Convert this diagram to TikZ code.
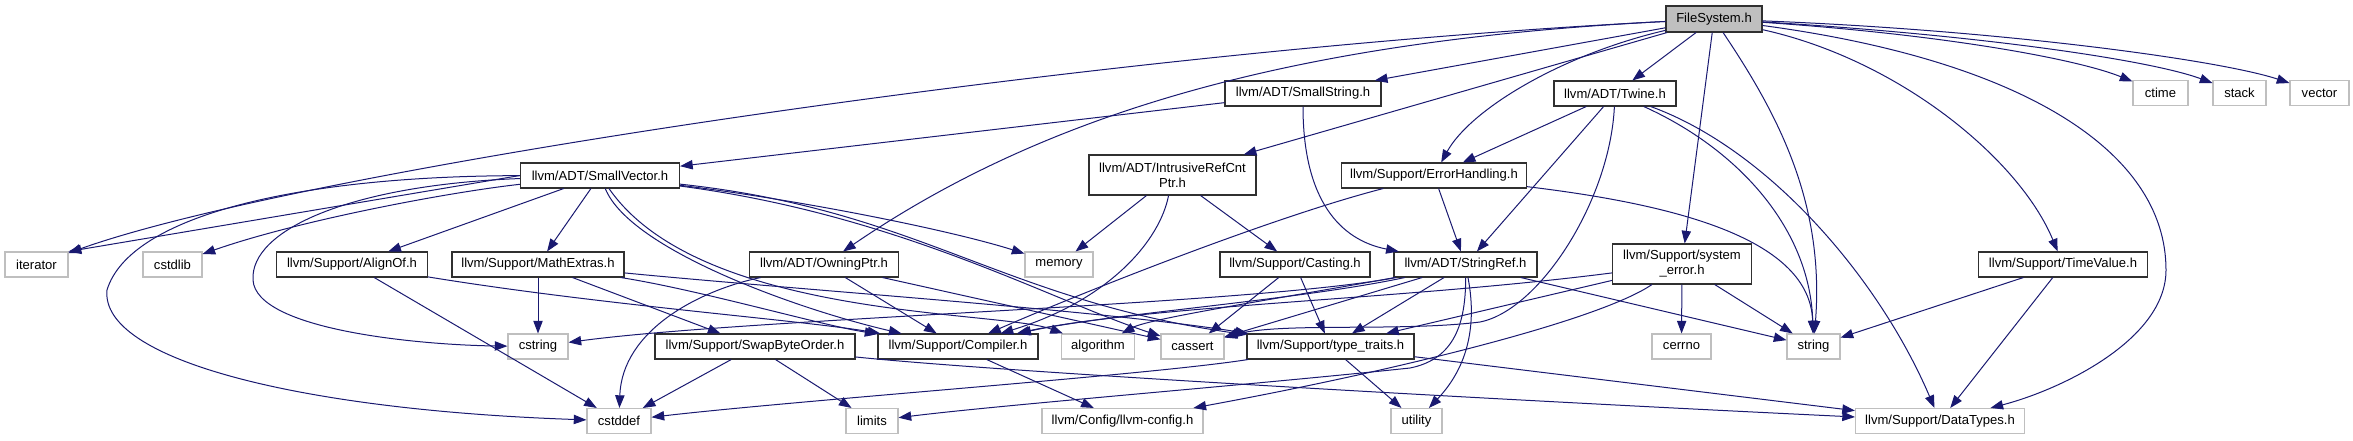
\documentclass[tikz,border=0pt]{standalone}
\usepackage{fontspec}
\setmainfont{Liberation Sans}
\usetikzlibrary{arrows.meta}
\definecolor{edgeblue}{HTML}{191970}
\definecolor{sysgray}{HTML}{BFBFBF}
\definecolor{boxline}{HTML}{303030}
\begin{document}
\begin{tikzpicture}[x=0.75pt,y=-0.75pt,
  box/.style={draw=boxline,line width=0.8pt,fill=white,inner sep=0pt,minimum height=18.75pt,font=\fontsize{9.8}{11.3}\selectfont,align=center},
  sys/.style={box,draw=sysgray},
  mainbox/.style={box,fill=sysgray,minimum height=19.5pt},
  wd/.style={minimum width=#1*0.75pt},
  edge/.style={draw=edgeblue,line width=0.75pt,-{Triangle[length=9.5pt,width=7pt]}}]
\useasboundingbox (0,0) rectangle (2353,440);
% nodes
\node[mainbox,wd=96] (fs) at (1714,19) {FileSystem.h};
\node[box,wd=156] (ss) at (1303,93.5) {llvm/ADT/SmallString.h};
\node[box,wd=122] (tw) at (1615,93.5) {llvm/ADT/Twine.h};
\node[box,wd=167,minimum height=30pt] (ir) at (1172.5,175) {llvm/ADT/IntrusiveRefCnt\\Ptr.h};
\node[box,wd=185] (eh) at (1434,175.5) {llvm/Support/ErrorHandling.h};
\node[box,wd=159] (sv) at (600,175.5) {llvm/ADT/SmallVector.h};
\node[sys,wd=63] (it) at (36.5,264.5) {iterator};
\node[sys,wd=59] (cl) at (172.5,264.5) {cstdlib};
\node[box,wd=151] (ao) at (352,264.5) {llvm/Support/AlignOf.h};
\node[box,wd=172] (me) at (538,264.5) {llvm/Support/MathExtras.h};
\node[box,wd=149] (op) at (824,264.5) {llvm/ADT/OwningPtr.h};
\node[sys,wd=68] (mem) at (1059,264.5) {memory};
\node[box,wd=150] (ca) at (1295,264.5) {llvm/Support/Casting.h};
\node[box,wd=143] (sr) at (1465.5,264.5) {llvm/ADT/StringRef.h};
\node[box,wd=139,minimum height=30pt] (se) at (1682,264) {llvm/Support/system\\\_error.h};
\node[box,wd=169] (tv) at (2063,264.5) {llvm/Support/TimeValue.h};
\node[sys,wd=55] (ctime) at (2160.5,93) {ctime};
\node[sys,wd=53] (stack) at (2239.5,93) {stack};
\node[sys,wd=59] (vec) at (2319.5,93) {vector};
\node[sys,wd=60] (cs) at (538,346.5) {cstring};
\node[box,wd=200] (sbo) at (755,346.5) {llvm/Support/SwapByteOrder.h};
\node[box,wd=160] (cp) at (958,346.5) {llvm/Support/Compiler.h};
\node[sys,wd=73] (alg) at (1098,346.5) {algorithm};
\node[sys,wd=63] (cas) at (1192.5,346.5) {cassert};
\node[box,wd=167] (tt) at (1330.5,346.5) {llvm/Support/type\_traits.h};
\node[sys,wd=59] (cer) at (1681.5,346.5) {cerrno};
\node[sys,wd=53] (str) at (1813.5,346.5) {string};
\node[sys,wd=64] (cd) at (619,421) {cstddef};
\node[sys,wd=52] (lim) at (872,421) {limits};
\node[sys,wd=161] (cfg) at (1122.5,421) {llvm/Config/llvm-config.h};
\node[sys,wd=51] (ut) at (1416.5,421) {utility};
\node[sys,wd=169] (dt) at (1940,421) {llvm/Support/DataTypes.h};
% FileSystem.h
\draw[edge] (fs) .. controls (1100,50) and (300,170) .. (it);
\draw[edge] (fs) -- (ss);
\draw[edge] (fs) -- (tw);
\draw[edge] (fs) -- (ir);
\draw[edge] (fs) .. controls (1560,55) and (1470,110) .. (eh);
\draw[edge] (fs) .. controls (1300,40) and (1050,110) .. (op);
\draw[edge] (fs) -- (se);
\draw[edge] (fs) .. controls (1775,110) and (1825,200) .. (str);
\draw[edge] (fs) .. controls (1900,60) and (2020,160) .. (tv);
\draw[edge] (fs) .. controls (2020,60) and (2166,150) .. (2166,270) .. controls (2166,340) and (2060,390) .. (dt);
\draw[edge] (fs) .. controls (1950,35) and (2080,60) .. (ctime);
\draw[edge] (fs) .. controls (1980,35) and (2150,60) .. (stack);
\draw[edge] (fs) .. controls (2000,30) and (2220,60) .. (vec);
% SmallString.h
\draw[edge] (ss) -- (sv);
\draw[edge] (ss) .. controls (1303,200) and (1340,240) .. (sr);
% Twine.h
\draw[edge] (tw) -- (eh);
\draw[edge] (tw) -- (sr);
\draw[edge] (tw) .. controls (1610,200) and (1540,310) .. (1480,322) .. controls (1400,332) and (1280,322) .. (cas);
\draw[edge] (tw) .. controls (1740,150) and (1810,230) .. (str);
\draw[edge] (tw) .. controls (1770,150) and (1880,280) .. (dt);
% ErrorHandling.h
\draw[edge] (eh) .. controls (1280,215) and (1100,285) .. (cp);
\draw[edge] (eh) -- (sr);
\draw[edge] (eh) .. controls (1680,205) and (1810,240) .. (str);
% IntrusiveRefCntPtr.h
\draw[edge] (ir) -- (mem);
\draw[edge] (ir) .. controls (1160,240) and (1110,300) .. (cp);
\draw[edge] (ir) -- (ca);
% SmallVector.h
\draw[edge] (sv.west) -- (it.north east);
\draw[edge] (sv) .. controls (450,192) and (300,220) .. (cl);
\draw[edge] (sv) .. controls (300,176) and (130,215) .. (107,290) .. controls (100,360) and (300,410) .. (cd);
\draw[edge] (sv) .. controls (350,185) and (250,230) .. (253,280) .. controls (256,330) and (420,345) .. (cs);
\draw[edge] (sv) -- (ao);
\draw[edge] (sv) -- (me);
\draw[edge] (sv) .. controls (630,250) and (800,310) .. (cp);
\draw[edge] (sv) .. controls (700,320) and (1000,310) .. (alg);
\draw[edge] (sv) .. controls (800,200) and (950,230) .. (mem);
\draw[edge] (sv) .. controls (900,215) and (1050,300) .. (cas);
\draw[edge] (sv) .. controls (920,210) and (1000,300) .. (tt);
% AlignOf.h
\draw[edge] (ao) -- (cd);
\draw[edge] (ao) .. controls (600,305) and (800,320) .. (cp);
% MathExtras.h
\draw[edge] (me) -- (cs);
\draw[edge] (me) -- (sbo);
\draw[edge] (me) .. controls (700,290) and (820,325) .. (cp);
\draw[edge] (me) .. controls (800,290) and (1100,310) .. (tt);
% OwningPtr.h
\draw[edge] (op) .. controls (700,290) and (622,330) .. (cd);
\draw[edge] (op) -- (cp);
\draw[edge] (op) -- (cas);
% SwapByteOrder.h
\draw[edge] (sbo) -- (cd);
\draw[edge] (sbo) -- (lim);
\draw[edge] (sbo) .. controls (1000,372) and (1500,400) .. (dt);
% Compiler.h
\draw[edge] (cp) -- (cfg);
% Casting.h
\draw[edge] (ca) -- (cas);
\draw[edge] (ca) -- (tt);
% StringRef.h
\draw[edge] (sr) .. controls (1300,300) and (1100,315) .. (cp);
\draw[edge] (sr) .. controls (1300,295) and (1150,318) .. (alg);
\draw[edge] (sr) -- (cas);
\draw[edge] (sr) .. controls (1250,305) and (750,318) .. (cs);
\draw[edge] (sr) -- (tt);
\draw[edge] (sr) .. controls (1466,330) and (1450,360) .. (1410,368) .. controls (1250,385) and (1000,405) .. (lim);
\draw[edge] (sr) .. controls (1478,330) and (1465,370) .. (ut);
\draw[edge] (sr) -- (str);
% system_error.h
\draw[edge] (se) -- (cer);
\draw[edge] (se) -- (str);
\draw[edge] (se) -- (tt);
\draw[edge] (se) .. controls (1400,300) and (1150,305) .. (cp);
\draw[edge] (se) .. controls (1600,320) and (1400,370) .. (cfg);
% type_traits.h
\draw[edge] (tt) .. controls (1150,375) and (800,400) .. (cd);
\draw[edge] (tt) -- (ut);
\draw[edge] (tt) -- (dt);
% TimeValue.h
\draw[edge] (tv) -- (str);
\draw[edge] (tv) -- (dt);
\end{tikzpicture}
\end{document}
